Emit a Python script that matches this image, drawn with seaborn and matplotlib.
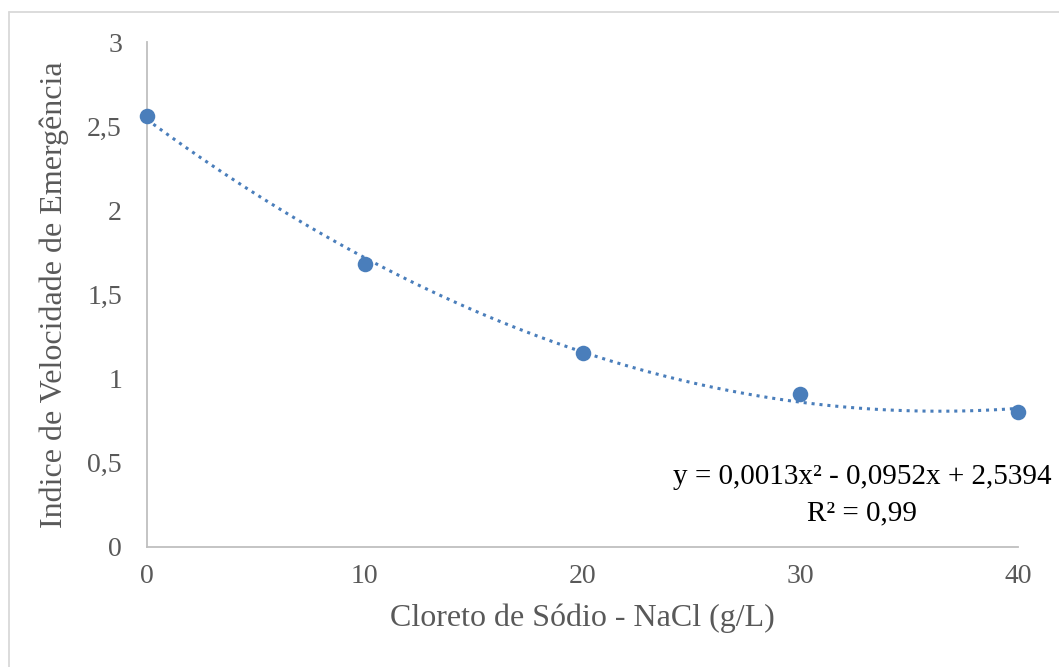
import matplotlib
matplotlib.use("Agg")
import matplotlib.pyplot as plt
from matplotlib.lines import Line2D
import seaborn as sns
import numpy as np
import pandas as pd

# Data
nacl = [0, 10, 20, 30, 40]
ive = [2.56, 1.68, 1.15, 0.91, 0.80]
x_ticks = [0, 10, 20, 30, 40]
y_ticks = [0, 0.5, 1, 1.5, 2, 2.5, 3]
y_tick_labels = ["0", "0,5", "1", "1,5", "2", "2,5", "3"]
x_label = "Cloreto de Sódio - NaCl (g/L)"
y_label = "Indice de Velocidade de Emergência"
eq_text = "y = 0,0013x² - 0,0952x + 2,5394"
r2_text = "R² = 0,99"

sns.set_theme(style="white")
plt.rcParams['font.family'] = ['Liberation Serif', 'DejaVu Serif']

df = pd.DataFrame({"x": nacl, "y": ive})
blue = "#4A7EBB"
grey_text = "#595959"
spine_col = "#BFBFBF"

fig = plt.figure(figsize=(10.59, 6.67), dpi=100)
ax = fig.add_axes([0.1388, 0.18, 0.9613 - 0.1388, 0.937 - 0.18])

sns.regplot(data=df, x="x", y="y", order=2, ci=None, ax=ax,
            scatter_kws=dict(s=125, color=blue, edgecolor=blue, linewidths=0,
                             zorder=3, clip_on=False, alpha=1),
            line_kws=dict(color=blue, linestyle=(0, (1, 1.6)), linewidth=2.2, zorder=2))

ax.set_xlim(0, 40)
ax.set_ylim(0, 3)
ax.set_xticks(x_ticks)
ax.set_xticklabels([str(t) for t in x_ticks])
ax.set_yticks(y_ticks)
ax.set_yticklabels(y_tick_labels)
ax.tick_params(axis='both', direction='in', length=7, width=1.3, color=spine_col,
               labelsize=20, labelcolor=grey_text)
ax.tick_params(axis='x', pad=12)
ax.tick_params(axis='y', pad=18)
for s in ['top', 'right']:
    ax.spines[s].set_visible(False)
for s in ['left', 'bottom']:
    ax.spines[s].set_color(spine_col)
    ax.spines[s].set_linewidth(1.3)
ax.set_xlabel(x_label, fontsize=23, color=grey_text, labelpad=11)
ax.set_ylabel(y_label, fontsize=23, color=grey_text, labelpad=13)

ax.text(1.039, 0.139, eq_text, transform=ax.transAxes, ha='right', va='center',
        fontsize=21, color='black', clip_on=False)
ax.text(0.821, 0.067, r2_text, transform=ax.transAxes, ha='center', va='center',
        fontsize=21, color='black', clip_on=False)

# Figure border (top and left edges visible)
bx, by = 9 / 1059, 1 - 12 / 667
fig.add_artist(Line2D([bx, bx], [0, by], transform=fig.transFigure,
                      color="#D9D9D9", linewidth=1.3))
fig.add_artist(Line2D([bx, 1], [by, by], transform=fig.transFigure,
                      color="#D9D9D9", linewidth=1.3))

fig.savefig("out.png", dpi=100)
